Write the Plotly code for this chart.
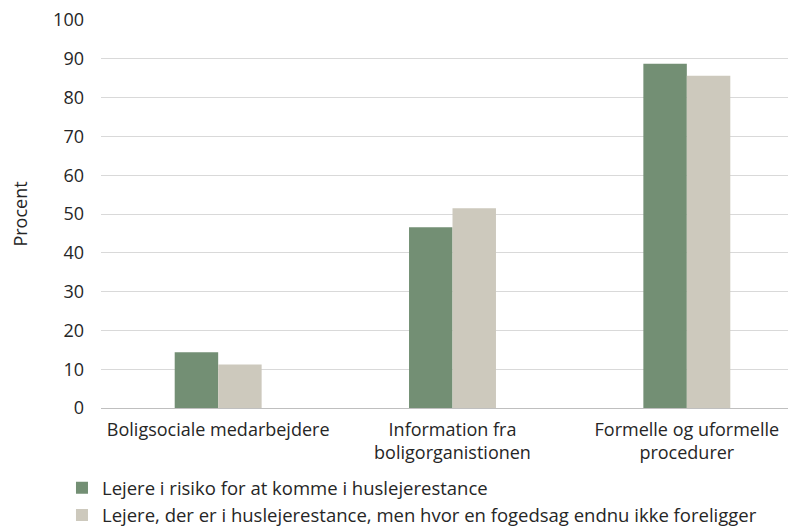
import plotly.graph_objects as go

categories = ["Boligsociale medarbejdere", "Information fra<br>boligorganistionen", "Formelle og uformelle<br>procedurer"]
series_names = [
    "Lejere i risiko for at komme i huslejerestance",
    "Lejere, der er i huslejerestance, men hvor en fogedsag endnu ikke foreligger",
]
risk_values = [14.4, 46.6, 88.7]
arrears_values = [11.2, 51.5, 85.6]
y_ticks = [0, 10, 20, 30, 40, 50, 60, 70, 80, 90, 100]

font_family = "Open Sans, Arial, sans-serif"
text_color = "#262626"
fs = 18

fig = go.Figure()
fig.add_trace(go.Bar(x=categories, y=risk_values, name=series_names[0], marker_color="#738f74", marker_line_width=0))
fig.add_trace(go.Bar(x=categories, y=arrears_values, name=series_names[1], marker_color="#cdc9bd", marker_line_width=0))

# the page body has an 8px default margin; margins compensate for that offset
fig.update_layout(
    width=796, height=545,
    margin=dict(l=93, r=0, t=12, b=145),
    paper_bgcolor="white", plot_bgcolor="white",
    font=dict(family=font_family, size=fs, color=text_color),
    barmode="group", bargap=0.629, bargroupgap=0,
    showlegend=True,
    legend=dict(orientation="v", x=-0.0555, xanchor="left", y=-0.158, yanchor="top",
                font=dict(size=18.5, color=text_color), traceorder="normal", tracegroupgap=0,
                borderwidth=0, bgcolor="rgba(0,0,0,0)"),
)
fig.update_xaxes(showline=True, linecolor="#bfbfbf", linewidth=1, ticks="", showgrid=False,
                 tickfont=dict(size=fs), automargin=False, ticklabelstandoff=5)
fig.update_yaxes(range=[0, 100], tickvals=y_ticks, showgrid=True, gridcolor="#d9d9d9", gridwidth=1,
                 zeroline=False, showline=False, ticks="", ticklabelstandoff=16, automargin=False,
                 ticklabeloverflow="allow",
                 title=dict(text="Procent", standoff=39, font=dict(size=fs)), tickfont=dict(size=fs))

fig.write_html("out.html")
